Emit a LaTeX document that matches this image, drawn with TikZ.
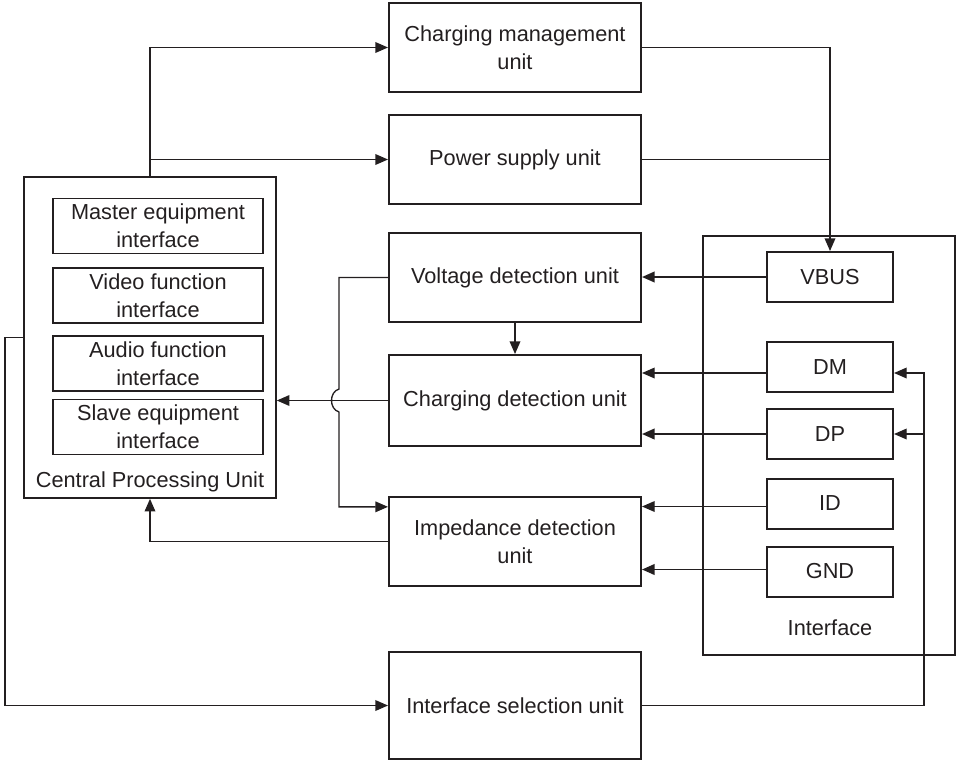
\documentclass[tikz,border=0pt]{standalone}
\usepackage{fontspec}
\setmainfont{Liberation Sans}
\usetikzlibrary{arrows.meta,calc}
\definecolor{ink}{HTML}{231F20}
\begin{document}
\begin{tikzpicture}[x=0.75pt,y=-0.75pt,
  every node/.style={font=\fontsize{16.3}{21}\selectfont, text=ink, align=center, inner sep=0pt},
  unitbox/.style={draw=ink, line width=1.5pt, minimum width=189pt, minimum height=66.75pt},
  subbox/.style={draw=ink, line width=1.2pt, minimum width=157.5pt, minimum height=41pt},
  pinbox/.style={draw=ink, line width=1.5pt, minimum width=94.5pt, minimum height=37.5pt},
  outerbox/.style={draw=ink, line width=1.2pt},
  conn/.style={draw=ink, line width=1pt},
  thk/.style={line width=1.4pt},
  arr/.style={conn, -{Triangle[length=9.5pt,width=8pt]}}
]
\useasboundingbox (0,0) rectangle (956,761);

% main units
\node[unitbox] (cm) at (515,47.5) {Charging management\\unit};
\node[unitbox] (ps) at (515,159.5) {Power supply unit};
\node[unitbox] (vd) at (515,277.5) {Voltage detection unit};
\node[unitbox, minimum height=68.25pt] (cd) at (515,400.5) {Charging detection unit};
\node[unitbox] (imp) at (515,541.5) {Impedance detection\\unit};
\node[unitbox, minimum height=80.25pt] (isel) at (515,705.5) {Interface selection unit};

% CPU
\node[outerbox, minimum width=189pt, minimum height=240.75pt] (cpu) at (150,337.5) {};
\node (cpulbl) at (150,482) {Central Processing Unit};
\node[subbox] (mei) at (158,226) {Master equipment\\interface};
\node[subbox] (vfi) at (158,295.5) {Video function\\interface};
\node[subbox] (afi) at (158,363.5) {Audio function\\interface};
\node[subbox] (sei) at (158,427) {Slave equipment\\interface};

% Interface
\node[outerbox, minimum width=189pt, minimum height=314.25pt] (ifc) at (829,445.5) {};
\node (ifclbl) at (830,628) {Interface};
\node[pinbox] (vbus) at (830,277) {VBUS};
\node[pinbox] (dm) at (830,367) {DM};
\node[pinbox] (dp) at (830,434) {DP};
\node[pinbox] (idp) at (830,503.5) {ID};
\node[pinbox] (gnd) at (830,571.5) {GND};

% helper coordinates
\coordinate (dmL) at ([yshift=-4.5pt]dm.west);
\coordinate (dmR) at ([yshift=-4.5pt]dm.east);
\coordinate (idL) at ([yshift=-2.25pt]idp.west);
\coordinate (gndL) at ([yshift=1.5pt]gnd.west);
\coordinate (rail) at (924,0);
\coordinate (bus) at (339,0);
\coordinate (hopT) at (339,389);
\coordinate (hopB) at (339,412);
\coordinate (impin) at ([yshift=26pt]imp.west);
\coordinate (lrail) at (5,0);

% CPU to charging management and power supply
\draw[arr] (cpu.north) |- (cm.west);
\draw[arr] (cpu.north |- ps.west) -- (ps.west);

% charging management / power supply to VBUS
\draw[arr] (cm.east) -| (vbus.north);
\draw[conn] (ps.east) -- (ps.east -| vbus.north);

% VBUS to voltage detection
\draw[arr, thk] (vbus.west) -- (vd.east |- vbus.west);

% voltage detection to charging detection
\draw[arr] (vd.south) -- (cd.north);

% voltage detection to impedance detection, with hop
\draw[arr] (vd.west) -| (hopT) .. controls (329,392) and (329,409) .. (hopB) -- (bus |- impin) -- (impin);

% charging detection to CPU
\draw[arr] (cd.west) -- (cd.west -| cpu.east);

% impedance detection to CPU
\draw[arr] (imp.west) -| (cpu.south);

% CPU to interface selection
\draw[arr] (cpu.west) -- (lrail |- cpu.west) |- (isel.west);

% interface selection to DM and DP
\draw[arr] (isel.east) -| (rail |- dmR) -- (dmR);
\draw[arr] (rail |- dp.east) -- (dp.east);

% pins to detection units
\draw[arr] (dmL) -- (cd.east |- dmL);
\draw[arr, thk] (dp.west) -- (cd.east |- dp.west);
\draw[arr] (idL) -- (imp.east |- idL);
\draw[arr, thk] (gndL) -- (imp.east |- gndL);
\end{tikzpicture}
\end{document}
